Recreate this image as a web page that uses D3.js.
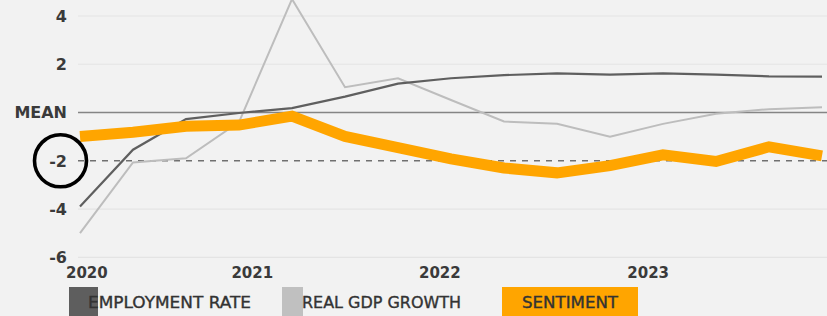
<!DOCTYPE html>
<html><head><meta charset="utf-8">
<script src="https://cdn.jsdelivr.net/npm/d3@7"></script>
<style>
html,body{margin:0;padding:0;background:#f2f2f2;}
svg{display:block;}
</style></head>
<body>
<script>
// ---- data ----
const periods = ["2020Q1","2020Q2","2020Q3","2020Q4","2021Q1","2021Q2","2021Q3","2021Q4","2022Q1","2022Q2","2022Q3","2022Q4","2023Q1","2023Q2","2023Q3"];
const employment = [-3.89,-1.54,-0.27,-0.02,0.18,0.66,1.2,1.42,1.55,1.62,1.57,1.62,1.57,1.5,1.49];
const gdp = [-5.0,-2.07,-1.9,-0.4,4.7,1.05,1.42,0.52,-0.37,-0.47,-1.0,-0.47,-0.05,0.14,0.22];
const sentiment = [-0.99,-0.82,-0.57,-0.52,-0.15,-0.99,-1.45,-1.92,-2.3,-2.5,-2.2,-1.75,-2.03,-1.42,-1.8];
const yTickValues = [4,2,0,-2,-4,-6];
const yTickLabels = ["4","2","MEAN","-2","-4","-6"];
const xTickLabels = ["2020","2021","2022","2023"];
const xTickAt = [0.13,3.25,6.79,10.72];
const legendLabels = ["EMPLOYMENT RATE","REAL GDP GROWTH","SENTIMENT"];

const W=827,H=316;
const svg=d3.select("body").append("svg").attr("width",W).attr("height",H);
svg.append("rect").attr("width",W).attr("height",H).attr("fill","#f2f2f2");

const x=d3.scaleLinear().domain([0,periods.length-1]).range([80,822]);
const y=d3.scaleLinear().domain([-6,4]).range([257.3,16]);
const font="'DejaVu Sans', sans-serif";

// gridlines
const grid=svg.append("g");
yTickValues.forEach(v=>{
  const l=grid.append("line").attr("x1",78).attr("x2",W).attr("y1",y(v)).attr("y2",y(v));
  if(v===0) l.attr("stroke","#858585").attr("stroke-width",1.6);
  else if(v===-2) l.attr("stroke","#707070").attr("stroke-width",1.6).attr("stroke-dasharray","6,6");
  else l.attr("stroke","#e4e4e4").attr("stroke-width",1.2);
});

// y labels
svg.append("g").selectAll("text").data(yTickValues).join("text")
  .attr("x",67).attr("y",d=>y(d)).attr("dy","0.36em")
  .attr("text-anchor","end").attr("font-family",font).attr("font-size",16).attr("font-weight","bold")
  .attr("fill","#3a3a3a").text((d,i)=>yTickLabels[i]);

// x labels
svg.append("g").selectAll("text").data(xTickLabels).join("text")
  .attr("x",(d,i)=>x(xTickAt[i])).attr("y",278)
  .attr("text-anchor","middle").attr("font-family",font).attr("font-size",15).attr("font-weight","bold")
  .attr("fill","#3a3a3a").text(d=>d);

const line=d3.line().x((d,i)=>x(i)).y(d=>y(d));
svg.append("path").datum(gdp).attr("d",line).attr("fill","none").attr("stroke","#bdbdbd").attr("stroke-width",2);
svg.append("path").datum(employment).attr("d",line).attr("fill","none").attr("stroke","#5f5f5f").attr("stroke-width",2.2);
svg.append("path").datum(sentiment).attr("d",line).attr("fill","none").attr("stroke","#ffa500").attr("stroke-width",11).attr("stroke-linejoin","miter");

// circle highlight around -2
svg.append("circle").attr("cx",60.5).attr("cy",y(-2)).attr("r",26).attr("fill","none").attr("stroke","#000").attr("stroke-width",3.6);

// legend
const legend=[
 {box:[69,29],color:"#5e5e5e",tx:88,tw:163},
 {box:[282,21],color:"#c0c0c0",tx:302,tw:159},
 {box:[502,136],color:"#ffa500",tx:522,tw:96}
];
const lg=svg.append("g");
legend.forEach((l,i)=>{
  lg.append("rect").attr("x",l.box[0]).attr("y",287).attr("width",l.box[1]).attr("height",30).attr("fill",l.color);
  lg.append("text").attr("x",l.tx).attr("y",308).attr("font-family",font).attr("font-size",15)
    .attr("fill","#333").attr("stroke","#333").attr("stroke-width",0.35)
    .attr("textLength",l.tw).attr("lengthAdjust","spacingAndGlyphs").text(legendLabels[i]);
});
</script>
</body></html>
